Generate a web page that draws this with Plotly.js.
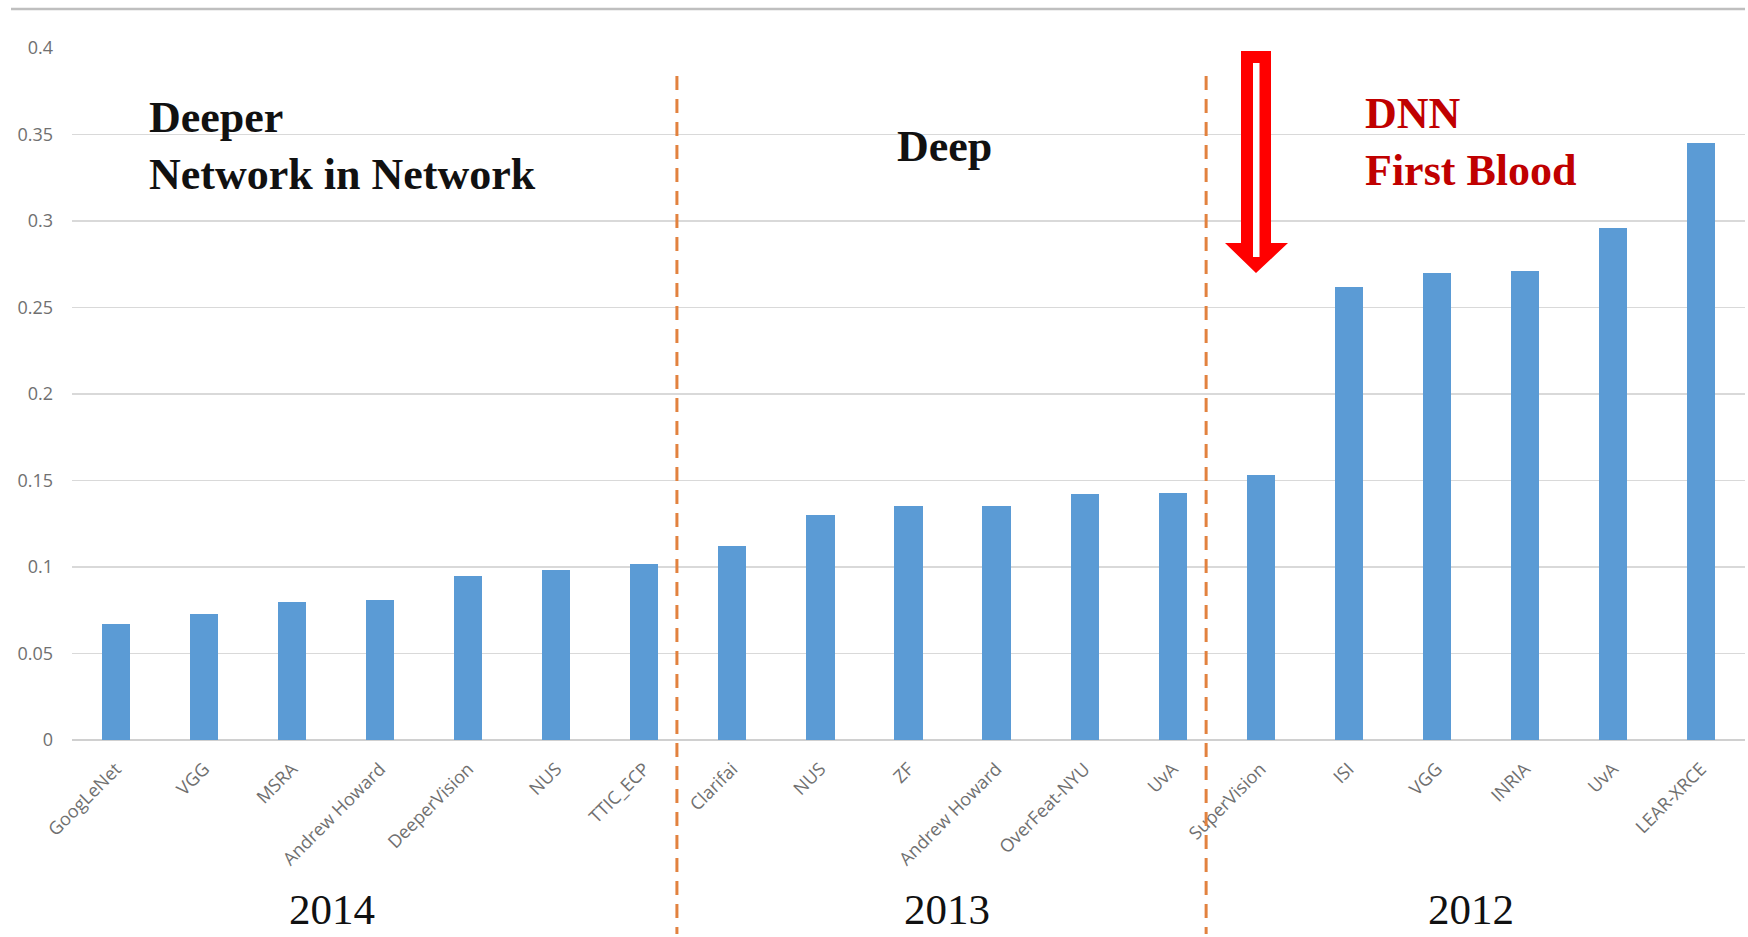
<!DOCTYPE html>
<html>
<head>
<meta charset="utf-8">
<script src="https://cdn.plot.ly/plotly-3.0.1.min.js"></script>
<style>
html,body{margin:0;padding:0;background:#fff;}
#chart{width:1748px;height:937px;}
</style>
</head>
<body>
<div id="chart"></div>
<script>
// ---- data ----
const categories = ["GoogLeNet","VGG","MSRA","Andrew Howard","DeeperVision","NUS","TTIC_ECP",
  "Clarifai","NUS","ZF","Andrew Howard","OverFeat-NYU","UvA",
  "SuperVision","ISI","VGG","INRIA","UvA","LEAR-XRCE"];
const errorRates = [0.067,0.073,0.080,0.081,0.095,0.098,0.102,
  0.112,0.130,0.135,0.135,0.142,0.143,
  0.153,0.262,0.270,0.271,0.296,0.345];
const yearLabels = ["2014","2013","2012"];
const eraLabels = ["Deeper<br>Network in Network","Deep","DNN<br>First Blood"];

// ---- layout geometry (pixels) ----
const W = 1748, H = 937;
const L = 72, R = 3, T = 47, B = 197;
const pw = W - L - R, ph = H - T - B;
const px = v => (v - L) / pw;          // pixel x -> paper
const py = v => (H - B - v) / ph;      // pixel y -> paper

const xIdx = categories.map((_, i) => i);

const trace = {
  type: 'bar',
  x: xIdx,
  y: errorRates,
  width: 0.32,
  marker: {color: '#5B9BD5'},
  hoverinfo: 'skip'
};

const serif = 'Liberation Serif, Times New Roman, serif';
const sans = 'Open Sans, Liberation Sans, sans-serif';

const dashColor = '#E2823F';
const shapes = [
  // top frame line
  {type:'line', xref:'paper', yref:'paper', x0:px(11), x1:px(1745), y0:py(9), y1:py(9),
   line:{color:'#BFBFBF', width:2.5}},
  // era separators
  {type:'line', xref:'x', yref:'paper', x0:6.37, x1:6.37, y0:py(76), y1:py(934),
   line:{color:dashColor, width:3, dash:'14px,9px'}},
  {type:'line', xref:'x', yref:'paper', x0:12.38, x1:12.38, y0:py(76), y1:py(934),
   line:{color:dashColor, width:3, dash:'14px,9px'}},
  // red hollow arrow
  {type:'path', xref:'paper', yref:'paper',
   path:`M ${px(1241)} ${py(51)} L ${px(1271)} ${py(51)} L ${px(1271)} ${py(243)} L ${px(1288)} ${py(243)} L ${px(1256)} ${py(273)} L ${px(1225)} ${py(243)} L ${px(1241)} ${py(243)} Z`,
   fillcolor:'#FF0000', line:{width:0}},
  {type:'rect', xref:'paper', yref:'paper', x0:px(1253), x1:px(1259.5), y0:py(63), y1:py(257),
   fillcolor:'#FFFFFF', line:{width:0}}
];

const annotations = [
  {text:eraLabels[0], xref:'paper', yref:'paper', x:px(147), y:py(146), xanchor:'left', yanchor:'middle',
   align:'left', showarrow:false, font:{family:serif, size:44, color:'#111', weight:'bold'}},
  {text:eraLabels[1], xref:'paper', yref:'paper', x:px(945), y:py(146), xanchor:'center', yanchor:'middle',
   showarrow:false, font:{family:serif, size:44, color:'#111', weight:'bold'}},
  {text:eraLabels[2], xref:'paper', yref:'paper', x:px(1363), y:py(142), xanchor:'left', yanchor:'middle',
   align:'left', showarrow:false, font:{family:serif, size:44, color:'#C00000', weight:'bold'}},
  {text:yearLabels[0], xref:'paper', yref:'paper', x:px(332), y:py(909), xanchor:'center', yanchor:'middle',
   showarrow:false, font:{family:serif, size:43, color:'#111'}},
  {text:yearLabels[1], xref:'paper', yref:'paper', x:px(947), y:py(909), xanchor:'center', yanchor:'middle',
   showarrow:false, font:{family:serif, size:43, color:'#111'}},
  {text:yearLabels[2], xref:'paper', yref:'paper', x:px(1471), y:py(909), xanchor:'center', yanchor:'middle',
   showarrow:false, font:{family:serif, size:43, color:'#111'}}
];

const layout = {
  width: W, height: H,
  margin: {l:L, r:R, t:T, b:B},
  paper_bgcolor:'#fff', plot_bgcolor:'#fff',
  showlegend:false,
  bargap: 0,
  xaxis: {
    range:[-0.5, 18.5],
    tickmode:'array', tickvals:xIdx, ticktext:categories,
    tickangle:-45, ticks:'', showgrid:false, zeroline:false, showline:false,
    ticklabelstandoff:14,
    tickfont:{family:sans, size:18, color:'#707070'},
    fixedrange:true
  },
  yaxis: {
    range:[0, 0.4005], dtick:0.05, tick0:0,
    showgrid:true, gridcolor:'#D9D9D9', gridwidth:1.5,
    zeroline:true, zerolinecolor:'#D0D0D0', zerolinewidth:2,
    showline:false, ticks:'', ticklabelstandoff:18,
    tickfont:{family:sans, size:18, color:'#707070'},
    fixedrange:true
  },
  shapes: shapes,
  annotations: annotations
};

Plotly.newPlot('chart', [trace], layout, {displayModeBar:false, staticPlot:true});
</script>
</body>
</html>
